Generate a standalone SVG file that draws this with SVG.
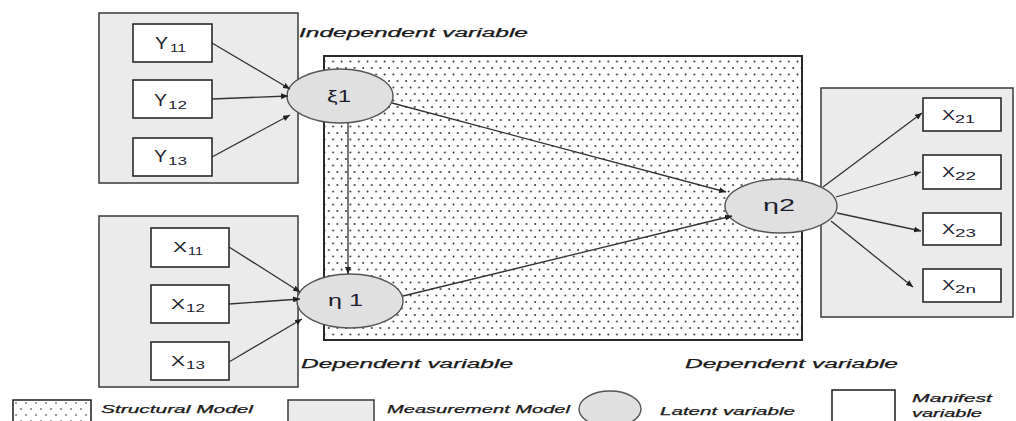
<svg xmlns="http://www.w3.org/2000/svg" width="1016" height="421" viewBox="0 0 1016 421">
<style>
.meas{fill:#ebebeb;stroke:#3a3a3a;stroke-width:1.5}
.man{fill:#ffffff;stroke:#2a2a2a;stroke-width:1.6}
.lat{fill:#e0e0e0;stroke:#555;stroke-width:1.4}
.struct{fill:url(#dots);stroke:#2a2a2a;stroke-width:2}
.lbl{font-family:"Liberation Sans",Arial,sans-serif;fill:#1e1e30}
.it{font-family:"Liberation Sans",Arial,sans-serif;font-style:italic;fill:#1a1a1a;stroke:#1a1a1a;stroke-width:0.25}
.conn path{fill:none;stroke:#333;stroke-width:1.3;marker-end:url(#arr)}
</style>
<defs>
<pattern id="dots" patternUnits="userSpaceOnUse" width="8.6" height="13">
<rect width="8.6" height="13" fill="#fff"/>
<circle cx="2" cy="3" r="0.9" fill="#222"/>
<circle cx="6.3" cy="9.5" r="0.9" fill="#222"/>
</pattern>
<pattern id="dots2" patternUnits="userSpaceOnUse" width="10" height="12" x="13" y="400">
<rect width="10" height="12" fill="#fff"/>
<circle cx="3" cy="3" r="0.8" fill="#222"/>
<circle cx="8" cy="9" r="0.8" fill="#222"/>
</pattern>
<marker id="arr" markerUnits="userSpaceOnUse" markerWidth="8" markerHeight="6" refX="7" refY="3" orient="auto">
<path d="M0,0 L7,3 L0,6 Z" fill="#222"/>
</marker>
</defs>

<rect width="1016" height="421" fill="#fff"/>

<g id="structural-model">
<rect class="struct" x="324" y="56" width="478" height="284"/>
</g>

<g id="measurement-xi1">
<rect class="meas" x="99" y="13" width="199" height="170"/>
</g>
<g id="measurement-eta1">
<rect class="meas" x="99" y="216" width="199" height="171"/>
</g>
<g id="measurement-eta2">
<rect class="meas" x="821" y="88" width="192" height="229"/>
</g>

<g id="node-Y11">
<rect class="man" x="133" y="24" width="79" height="38"/>
<text class="lbl" x="155" y="49" font-size="17" textLength="13" lengthAdjust="spacingAndGlyphs">Y</text>
<text class="lbl" x="170" y="52" font-size="11" textLength="16" lengthAdjust="spacingAndGlyphs">11</text>
</g>
<g id="node-Y12">
<rect class="man" x="133" y="80" width="79" height="38"/>
<text class="lbl" x="154" y="106" font-size="17" textLength="13" lengthAdjust="spacingAndGlyphs">Y</text>
<text class="lbl" x="168" y="109" font-size="11" textLength="19" lengthAdjust="spacingAndGlyphs">12</text>
</g>
<g id="node-Y13">
<rect class="man" x="133" y="138" width="79" height="38"/>
<text class="lbl" x="154" y="162" font-size="17" textLength="13" lengthAdjust="spacingAndGlyphs">Y</text>
<text class="lbl" x="168" y="165" font-size="11" textLength="19" lengthAdjust="spacingAndGlyphs">13</text>
</g>

<g id="node-X11">
<rect class="man" x="151" y="228" width="78" height="39"/>
<text class="lbl" x="173" y="252" font-size="15" textLength="14" lengthAdjust="spacingAndGlyphs">X</text>
<text class="lbl" x="188" y="255" font-size="11" textLength="15" lengthAdjust="spacingAndGlyphs">11</text>
</g>
<g id="node-X12">
<rect class="man" x="151" y="285" width="78" height="38"/>
<text class="lbl" x="171" y="309" font-size="15" textLength="14" lengthAdjust="spacingAndGlyphs">X</text>
<text class="lbl" x="186" y="312" font-size="11" textLength="19" lengthAdjust="spacingAndGlyphs">12</text>
</g>
<g id="node-X13">
<rect class="man" x="151" y="342" width="78" height="38"/>
<text class="lbl" x="171" y="366" font-size="15" textLength="14" lengthAdjust="spacingAndGlyphs">X</text>
<text class="lbl" x="186" y="369" font-size="11" textLength="19" lengthAdjust="spacingAndGlyphs">13</text>
</g>

<g id="node-X21">
<rect class="man" x="923" y="98" width="78" height="33"/>
<text class="lbl" x="942" y="120" font-size="15" textLength="13" lengthAdjust="spacingAndGlyphs">X</text>
<text class="lbl" x="955" y="123" font-size="11" textLength="20" lengthAdjust="spacingAndGlyphs">21</text>
</g>
<g id="node-X22">
<rect class="man" x="923" y="155" width="78" height="34"/>
<text class="lbl" x="942" y="177" font-size="15" textLength="13" lengthAdjust="spacingAndGlyphs">X</text>
<text class="lbl" x="955" y="180" font-size="11" textLength="21" lengthAdjust="spacingAndGlyphs">22</text>
</g>
<g id="node-X23">
<rect class="man" x="923" y="213" width="78" height="32"/>
<text class="lbl" x="942" y="234" font-size="15" textLength="13" lengthAdjust="spacingAndGlyphs">X</text>
<text class="lbl" x="955" y="237" font-size="11" textLength="21" lengthAdjust="spacingAndGlyphs">23</text>
</g>
<g id="node-X2n">
<rect class="man" x="923" y="269" width="78" height="33"/>
<text class="lbl" x="942" y="290" font-size="15" textLength="13" lengthAdjust="spacingAndGlyphs">X</text>
<text class="lbl" x="955" y="293" font-size="11" textLength="21" lengthAdjust="spacingAndGlyphs">2n</text>
</g>

<g id="node-xi1">
<ellipse class="lat" cx="340" cy="96" rx="53" ry="27"/>
<text class="lbl" x="339" y="102" font-size="17" text-anchor="middle" textLength="24" lengthAdjust="spacingAndGlyphs">ξ1</text>
</g>
<g id="node-eta1">
<ellipse class="lat" cx="350" cy="301" rx="53" ry="27"/>
<text class="lbl" x="345.5" y="306" font-size="17" text-anchor="middle" textLength="35" lengthAdjust="spacingAndGlyphs">η 1</text>
</g>
<g id="node-eta2">
<ellipse class="lat" cx="781" cy="206" rx="56" ry="27"/>
<text class="lbl" x="779" y="211" font-size="17" text-anchor="middle" textLength="32" lengthAdjust="spacingAndGlyphs">η2</text>
</g>

<g id="connectors" class="conn">
<path d="M212,43 L290,89"/>
<path d="M212,99 L288,96"/>
<path d="M212,157 L290,115"/>
<path d="M229,247 L300,292"/>
<path d="M229,304 L300,299"/>
<path d="M229,362 L302,319"/>
<path d="M348,123 L348,274"/>
<path d="M392,103 L726,192"/>
<path d="M403,296 L732,216"/>
<path d="M823,187 L922,113"/>
<path d="M836,197 L921,172"/>
<path d="M837,213 L921,231"/>
<path d="M831,221 L913,287"/>
</g>

<g id="annotations">
<text class="it" x="299" y="37" font-size="12" textLength="229" lengthAdjust="spacingAndGlyphs">Independent variable</text>
<text class="it" x="301" y="368" font-size="12" textLength="212" lengthAdjust="spacingAndGlyphs">Dependent variable</text>
<text class="it" x="685" y="368" font-size="12" textLength="213" lengthAdjust="spacingAndGlyphs">Dependent variable</text>
</g>

<g id="legend">
<rect x="13" y="400" width="78" height="30" fill="url(#dots2)" stroke="#2a2a2a" stroke-width="1.6"/>
<text class="it" x="101" y="413" font-size="11" textLength="152" lengthAdjust="spacingAndGlyphs">Structural Model</text>
<rect class="meas" x="288" y="400" width="86" height="30"/>
<text class="it" x="387" y="413" font-size="11" textLength="183" lengthAdjust="spacingAndGlyphs">Measurement  Model</text>
<ellipse class="lat" cx="610" cy="409" rx="31" ry="18"/>
<text class="it" x="660" y="415" font-size="11" textLength="135" lengthAdjust="spacingAndGlyphs">Latent variable</text>
<rect class="man" x="832" y="390" width="63" height="40"/>
<text class="it" x="912" y="402" font-size="11" textLength="80" lengthAdjust="spacingAndGlyphs">Manifest</text>
<text class="it" x="912" y="417" font-size="11" textLength="70" lengthAdjust="spacingAndGlyphs">variable</text>
</g>
</svg>
